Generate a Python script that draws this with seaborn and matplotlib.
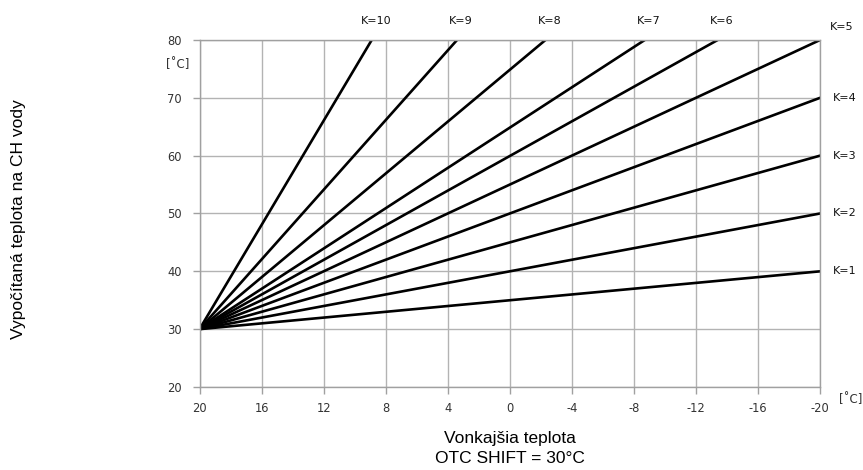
import pandas as pd
import seaborn as sns
import matplotlib.pyplot as plt

# heating curves K=1..10, all start at outdoor 20 C / water 30 C (OTC shift)
k_values = [1, 2, 3, 4, 5, 6, 7, 8, 9, 10]
start_outdoor = 20
start_water = 30
# where each curve leaves the plot
end_outdoor = [-20, -20, -20, -20, -20, -13.4, -8.7, -2.3, 3.4, 8.9]
end_water = [40, 50, 60, 70, 80, 80, 80, 80, 80, 80]

x_ticks = [20, 16, 12, 8, 4, 0, -4, -8, -12, -16, -20]
y_ticks = [20, 30, 40, 50, 60, 70, 80]

rows = []
for k, xe, ye in zip(k_values, end_outdoor, end_water):
    rows.append({"K": k, "outdoor": start_outdoor, "water": start_water})
    rows.append({"K": k, "outdoor": xe, "water": ye})
df = pd.DataFrame(rows)

sns.set_theme(style="whitegrid")
plt.rcParams['font.family'] = ['DejaVu Sans']
plt.rcParams['axes.unicode_minus'] = False

fig = plt.figure(figsize=(8.63, 4.70), dpi=100)
ax = fig.add_axes([0.2312, 0.1766, 0.719, 0.7383])

sns.lineplot(data=df, x="outdoor", y="water", hue="K", palette=["black"] * 10,
             linewidth=1.9, legend=False, ax=ax)

ax.set_xlim(20, -20)
ax.set_ylim(20, 80)
ax.set_xticks(x_ticks)
ax.set_yticks(y_ticks)
ax.grid(True, color="#b3b3b3", linewidth=1)
for s in ax.spines.values():
    s.set_color("#a0a0a0")
    s.set_linewidth(1)
ax.tick_params(axis="both", colors="#a0a0a0", length=5, width=1,
               labelcolor="#333333", labelsize=8.3, direction="out")
ax.tick_params(axis="x", pad=6)
ax.tick_params(axis="y", pad=8)
ax.xaxis.set_ticks_position("bottom")
ax.yaxis.set_ticks_position("left")

# curve labels
for k, xe, ye in zip(k_values, end_outdoor, end_water):
    if k == 5:
        off, ha, va = (7, 9), "left", "center"
    elif ye >= 80:
        off, ha, va = (3, 14), "center", "center"
    else:
        off, ha, va = (9, 0), "left", "center"
    ax.annotate(f"K={k}", xy=(xe, ye), xytext=off, textcoords="offset points",
                ha=ha, va=va, fontsize=8, color="#111111", annotation_clip=False)

ax.text(-0.036, 0.928, "[˚C]", transform=ax.transAxes, ha="center", va="center",
        fontsize=8.5, color="#333333")
ax.text(1.05, -0.037, "[˚C]", transform=ax.transAxes, ha="center", va="center",
        fontsize=8.5, color="#333333")

ax.set_xlabel("Vonkajšia teplota\nOTC SHIFT = 30°C", fontsize=12.5, color="black",
              family="Liberation Sans", linespacing=1.45, labelpad=11)
ax.set_ylabel("Vypočítaná teplota na CH vody", fontsize=12.5, color="black",
              family="Liberation Sans")
ax.yaxis.set_label_coords(-0.28, 0.484)

fig.savefig("out.png", dpi=100)
